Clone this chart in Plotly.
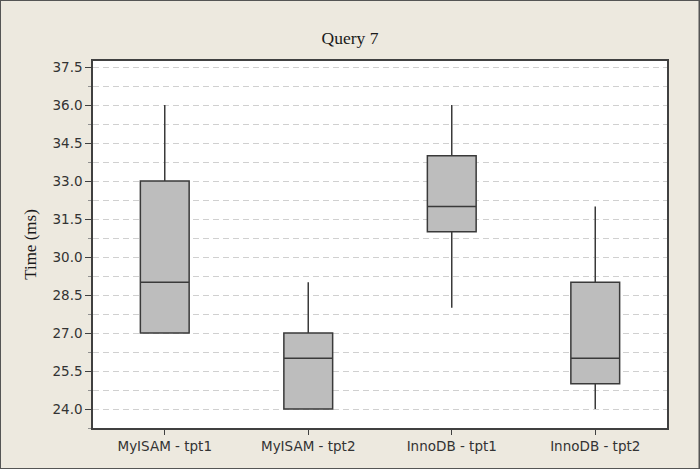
import plotly.graph_objects as go

categories = ["MyISAM - tpt1", "MyISAM - tpt2", "InnoDB - tpt1", "InnoDB - tpt2"]
lower_whisker = [27.0, 24.0, 28.0, 24.0]
q1_values = [27.0, 24.0, 31.0, 25.0]
median_values = [29.0, 26.0, 32.0, 26.0]
q3_values = [33.0, 27.0, 34.0, 29.0]
upper_whisker = [36.0, 29.0, 36.0, 32.0]
y_ticks = [24.0, 25.5, 27.0, 28.5, 30.0, 31.5, 33.0, 34.5, 36.0, 37.5]

fig = go.Figure()
fig.add_trace(go.Box(
    x=categories,
    q1=q1_values,
    median=median_values,
    q3=q3_values,
    lowerfence=lower_whisker,
    upperfence=upper_whisker,
    fillcolor="#bdbdbd",
    line=dict(color="#3a3a3a", width=1.5),
    whiskerwidth=0,
    width=0.34,
    boxpoints=False,
    hoverinfo="skip",
    showlegend=False,
))

axis_line = "#404040"
grid_dash = "6px,4px"
tick_font = dict(family="DejaVu Sans", size=13.5, color="#333333")
fig.update_layout(
    width=700, height=469,
    margin=dict(l=93, r=33, t=61, b=41),
    paper_bgcolor="#ede9df",
    plot_bgcolor="#ffffff",
    title=dict(text="Query 7", x=0.5, xanchor="center", y=1 - 38 / 469, yanchor="middle",
               font=dict(family="Liberation Serif", size=17.5, color="#1a1a1a")),
    font=dict(family="DejaVu Sans", size=13.5, color="#333333"),
    xaxis=dict(
        type="category", range=[-0.5, 3.5],
        showline=True, linecolor=axis_line, linewidth=1.5, mirror=True,
        ticks="outside", ticklen=5, tickcolor=axis_line, tickwidth=1,
        showgrid=False, zeroline=False,
        tickfont=tick_font,
    ),
    yaxis=dict(
        range=[23.25, 37.74],
        tickvals=y_ticks,
        ticktext=[f"{v:.1f}" for v in y_ticks],
        showline=True, linecolor=axis_line, linewidth=1.5, mirror=True,
        ticks="outside", ticklen=6, tickcolor=axis_line, tickwidth=1,
        showgrid=True, gridcolor="#d0d0d0", gridwidth=1, griddash=grid_dash,
        zeroline=False,
        minor=dict(dtick=0.75, tick0=24.0, ticks="outside", ticklen=3, tickcolor="#909090",
                   showgrid=True, gridcolor="#d0d0d0", gridwidth=1, griddash=grid_dash),
        title=dict(text="Time (ms)", standoff=12,
                   font=dict(family="Liberation Serif", size=17, color="#1a1a1a")),
        tickfont=tick_font,
    ),
    shapes=[dict(type="rect", xref="paper", yref="paper",
                 x0=-93 / 574, x1=1 + 33 / 574 - 0.5 / 574,
                 y0=-41 / 367, y1=1 + 61 / 367,
                 line=dict(color="#555555", width=2), fillcolor="rgba(0,0,0,0)", layer="below")],
)

fig.write_html("out.html")
